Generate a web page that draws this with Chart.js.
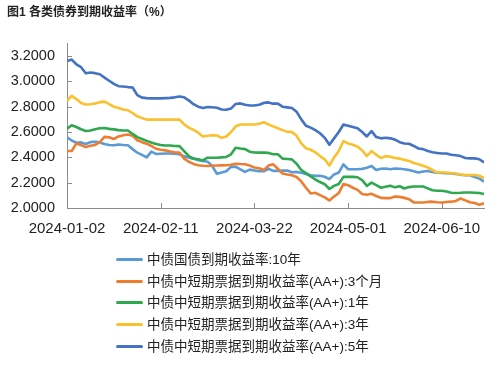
<!DOCTYPE html>
<html>
<head>
<meta charset="utf-8">
<script src="https://cdn.jsdelivr.net/npm/chart.js@4"></script>
<style>
  body { margin: 0; background: #fff; }
  #wrap { position: relative; width: 501px; height: 367px; }
  #legend { position: absolute; left: 116px; top: 249px; font: 13.5px "Liberation Sans", "Noto Sans CJK SC", sans-serif; color: #222; }
  #legend div { height: 21.7px; line-height: 21.7px; white-space: nowrap; }
  #legend span.ln { display: inline-block; width: 27px; height: 3px; border-radius: 1.5px; vertical-align: middle; margin-right: 4px; position: relative; top: -1px; }
</style>
</head>
<body>
<div id="wrap">
  <canvas id="chart" width="501" height="367"></canvas>
  <div id="legend"></div>
</div>
<script>
var dates = [
  '2024-01-02','2024-01-04','2024-01-06','2024-01-08','2024-01-10','2024-01-12','2024-01-14','2024-01-16','2024-01-18','2024-01-20',
  '2024-01-22','2024-01-24','2024-01-26','2024-01-28','2024-01-30','2024-02-01','2024-02-03','2024-02-05','2024-02-07','2024-02-09',
  '2024-02-11','2024-02-13','2024-02-15','2024-02-17','2024-02-19','2024-02-21','2024-02-23','2024-02-25','2024-02-27','2024-02-29',
  '2024-03-02','2024-03-04','2024-03-06','2024-03-08','2024-03-10','2024-03-12','2024-03-14','2024-03-16','2024-03-18','2024-03-20',
  '2024-03-22','2024-03-24','2024-03-26','2024-03-28','2024-03-30','2024-04-01','2024-04-03','2024-04-05','2024-04-07','2024-04-09',
  '2024-04-11','2024-04-13','2024-04-15','2024-04-17','2024-04-19','2024-04-21','2024-04-23','2024-04-25','2024-04-27','2024-04-29',
  '2024-05-01','2024-05-03','2024-05-05','2024-05-07','2024-05-09','2024-05-11','2024-05-13','2024-05-15','2024-05-17','2024-05-19',
  '2024-05-21','2024-05-23','2024-05-25','2024-05-27','2024-05-29','2024-05-31','2024-06-02','2024-06-04','2024-06-06','2024-06-08',
  '2024-06-10','2024-06-12','2024-06-14','2024-06-16','2024-06-18','2024-06-20','2024-06-22','2024-06-24','2024-06-26','2024-06-28'
];
var xTickDates = ['2024-01-02','2024-02-11','2024-03-22','2024-05-01','2024-06-10'];
var yTicks = [2.0, 2.2, 2.4, 2.6, 2.8, 3.0, 3.2];

var seriesNames = [
  '中债国债到期收益率:10年',
  '中债中短期票据到期收益率(AA+):3个月',
  '中债中短期票据到期收益率(AA+):1年',
  '中债中短期票据到期收益率(AA+):3年',
  '中债中短期票据到期收益率(AA+):5年'
];
var colors = ['#5b9bd5', '#ed7d31', '#2fa84f', '#fbc02d', '#4472c4'];

var gov10y = [
  2.559, 2.533, 2.515, 2.518, 2.505, 2.52, 2.523, 2.518, 2.505, 2.498,
  2.495, 2.502, 2.498, 2.495, 2.465, 2.437, 2.42, 2.40, 2.445, 2.427,
  2.429, 2.431, 2.431, 2.428, 2.424, 2.408, 2.398, 2.39, 2.378, 2.372,
  2.366, 2.332, 2.27, 2.28, 2.29, 2.325, 2.326, 2.305, 2.285, 2.303,
  2.296, 2.29, 2.29, 2.31, 2.293, 2.293, 2.295, 2.296, 2.282, 2.285,
  2.278, 2.268, 2.258, 2.254, 2.254, 2.247, 2.228, 2.265, 2.28, 2.345,
  2.306, 2.306, 2.306, 2.309, 2.318, 2.332, 2.30, 2.31, 2.312, 2.306,
  2.312, 2.31, 2.306, 2.30, 2.29, 2.28, 2.288, 2.292, 2.285, 2.278,
  2.276, 2.274, 2.272, 2.268, 2.262, 2.259, 2.259, 2.245, 2.232, 2.209
];
var mtn3m = [
  2.45, 2.45, 2.51, 2.497, 2.481, 2.492, 2.498, 2.52, 2.562, 2.558,
  2.545, 2.565, 2.574, 2.58, 2.57, 2.535, 2.52, 2.508, 2.49, 2.468,
  2.46, 2.455, 2.447, 2.44, 2.437, 2.39, 2.365, 2.348, 2.338, 2.334,
  2.332, 2.334, 2.336, 2.337, 2.338, 2.342, 2.35, 2.347, 2.345, 2.335,
  2.32, 2.314, 2.30, 2.335, 2.345, 2.31, 2.272, 2.265, 2.258, 2.245,
  2.21, 2.16, 2.115, 2.12, 2.102, 2.084, 2.06, 2.09, 2.118, 2.19,
  2.18, 2.16, 2.143, 2.11, 2.105, 2.112, 2.095, 2.08, 2.078, 2.078,
  2.09, 2.088, 2.08, 2.07, 2.044, 2.044, 2.044, 2.048, 2.05, 2.046,
  2.044, 2.047, 2.05, 2.056, 2.075, 2.06, 2.045, 2.039, 2.026, 2.037
];
var mtn1y = [
  2.627, 2.654, 2.64, 2.622, 2.608, 2.612, 2.622, 2.63, 2.632, 2.625,
  2.621, 2.615, 2.612, 2.612, 2.585, 2.56, 2.545, 2.53, 2.517, 2.505,
  2.497, 2.494, 2.494, 2.49, 2.489, 2.45, 2.41, 2.39, 2.385, 2.376,
  2.397, 2.397, 2.397, 2.40, 2.403, 2.424, 2.476, 2.47, 2.465, 2.445,
  2.438, 2.437, 2.437, 2.435, 2.425, 2.424, 2.39, 2.387, 2.384, 2.35,
  2.30, 2.275, 2.25, 2.225, 2.205, 2.188, 2.15, 2.175, 2.19, 2.246,
  2.246, 2.246, 2.243, 2.22, 2.175, 2.20, 2.18, 2.16, 2.168, 2.175,
  2.163, 2.172, 2.154, 2.165, 2.17, 2.17, 2.17, 2.155, 2.14, 2.136,
  2.136, 2.13, 2.12, 2.118, 2.12, 2.123, 2.122, 2.12, 2.118, 2.11
];
var mtn3y = [
  2.847, 2.886, 2.86, 2.83, 2.818, 2.82, 2.826, 2.836, 2.84, 2.821,
  2.80, 2.79, 2.778, 2.772, 2.75, 2.724, 2.71, 2.698, 2.698, 2.698,
  2.698, 2.698, 2.698, 2.698, 2.698, 2.66, 2.635, 2.617, 2.595, 2.565,
  2.57, 2.575, 2.573, 2.554, 2.565, 2.60, 2.645, 2.659, 2.659, 2.659,
  2.659, 2.665, 2.677, 2.66, 2.645, 2.63, 2.615, 2.601, 2.601, 2.57,
  2.51, 2.472, 2.46, 2.44, 2.41, 2.384, 2.335, 2.40, 2.45, 2.528,
  2.51, 2.50, 2.485, 2.455, 2.41, 2.45, 2.42, 2.395, 2.41, 2.405,
  2.395, 2.39, 2.38, 2.372, 2.355, 2.345, 2.333, 2.32, 2.30, 2.28,
  2.28, 2.28, 2.275, 2.272, 2.265, 2.261, 2.261, 2.261, 2.255, 2.235
];
var mtn5y = [
  3.16, 3.172, 3.135, 3.112, 3.064, 3.07, 3.065, 3.056, 3.03, 3.005,
  2.98, 2.962, 2.96, 2.955, 2.952, 2.892, 2.872, 2.868, 2.866, 2.866,
  2.866, 2.868, 2.87, 2.874, 2.88, 2.874, 2.85, 2.82, 2.80, 2.79,
  2.797, 2.796, 2.792, 2.778, 2.776, 2.785, 2.822, 2.826, 2.815, 2.81,
  2.81, 2.816, 2.83, 2.834, 2.824, 2.824, 2.80, 2.795, 2.79, 2.76,
  2.70, 2.65, 2.635, 2.615, 2.59, 2.554, 2.50, 2.55, 2.60, 2.659,
  2.65, 2.64, 2.63, 2.60, 2.565, 2.607, 2.56, 2.55, 2.555, 2.55,
  2.54, 2.52, 2.51, 2.507, 2.49, 2.47, 2.465, 2.45, 2.44, 2.435,
  2.43, 2.43, 2.42, 2.416, 2.41, 2.395, 2.392, 2.392, 2.385, 2.36
];

var FONT = '"Liberation Sans", "Noto Sans CJK SC", sans-serif';
var DAY = 86400000;
var t0 = Date.parse(dates[0]);
function dayOf(s) { return Math.round((Date.parse(s) - t0) / DAY); }
function dateOf(d) { return new Date(t0 + d * DAY).toISOString().slice(0, 10); }

var allSeries = [gov10y, mtn3m, mtn1y, mtn3y, mtn5y];
var datasets = allSeries.map(function (vals, i) {
  return {
    label: seriesNames[i],
    data: vals.map(function (v, j) { return { x: dayOf(dates[j]), y: v }; }),
    borderColor: colors[i],
    backgroundColor: colors[i],
    borderWidth: 2.6,
    pointRadius: 0,
    tension: 0,
    borderJoinStyle: 'round',
    order: allSeries.length - i
  };
});

// short tick marks pointing into the plot
var innerTicks = {
  id: 'innerTicks',
  afterDraw: function (chart) {
    var ctx = chart.ctx, a = chart.chartArea, x = chart.scales.x, y = chart.scales.y;
    ctx.save();
    ctx.strokeStyle = '#8c8c8c';
    ctx.lineWidth = 1;
    ctx.beginPath();
    x.ticks.forEach(function (t) {
      var px = Math.round(x.getPixelForValue(t.value)) + 0.5;
      ctx.moveTo(px, a.bottom);
      ctx.lineTo(px, a.bottom - 5);
    });
    y.ticks.forEach(function (t) {
      var py = Math.round(y.getPixelForValue(t.value)) + 0.5;
      ctx.moveTo(a.left, py);
      ctx.lineTo(a.left + 5, py);
    });
    ctx.stroke();
    ctx.restore();
  }
};

var chart = new Chart(document.getElementById('chart'), {
  type: 'line',
  data: { datasets: datasets },
  plugins: [innerTicks],
  options: {
    responsive: false,
    devicePixelRatio: 1,
    animation: false,
    layout: { padding: { left: 7, right: 17, top: 0, bottom: 129 } },
    plugins: {
      legend: { display: false },
      tooltip: { enabled: false },
      title: {
        display: true,
        text: '图1 各类债券到期收益率（%）',
        align: 'start',
        color: '#222',
        font: { family: FONT, size: 12, weight: 'bold' },
        padding: { top: 5, bottom: 24 }
      }
    },
    scales: {
      x: {
        type: 'linear',
        min: 0,
        max: dayOf(dates[dates.length - 1]),
        afterBuildTicks: function (s) {
          s.ticks = xTickDates.map(function (d) { return { value: dayOf(d) }; });
        },
        afterFit: function (s) { s.height = 30; },
        ticks: {
          color: '#222',
          font: { family: FONT, size: 15 },
          padding: 12,
          maxRotation: 0,
          autoSkip: false,
          callback: function (v) { return dateOf(v); }
        },
        grid: { display: true, drawOnChartArea: false, drawTicks: false },
        border: { display: true, color: '#8c8c8c', width: 1 }
      },
      y: {
        min: 2.0,
        max: 3.3,
        afterBuildTicks: function (s) {
          s.ticks = yTicks.map(function (v) { return { value: v }; });
        },
        afterFit: function (s) { s.width = 60; },
        ticks: {
          color: '#222',
          font: { family: FONT, size: 14.5 },
          padding: 12,
          callback: function (v) { return v.toFixed(4); }
        },
        grid: { display: true, drawOnChartArea: false, drawTicks: false },
        border: { display: true, color: '#8c8c8c', width: 1 }
      }
    }
  }
});

var legend = document.getElementById('legend');
chart.data.datasets.forEach(function (ds) {
  var row = document.createElement('div');
  var ln = document.createElement('span');
  ln.className = 'ln';
  ln.style.background = ds.borderColor;
  row.appendChild(ln);
  row.appendChild(document.createTextNode(ds.label));
  legend.appendChild(row);
});
</script>
</body>
</html>
